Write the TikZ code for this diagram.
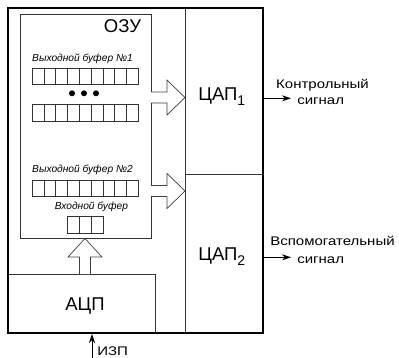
\documentclass[tikz,border=0pt]{standalone}
\usepackage{fontspec}
\setmainfont{Liberation Sans}
\newfontfamily\widesans{Liberation Sans}[FakeStretch=1.2]
\usetikzlibrary{positioning, arrows.meta, calc}

\begin{document}
\begin{tikzpicture}[x=1pt, y=-1pt, line width=0.7pt,
  block/.style={draw=black!80, line width=0.7pt, inner sep=0pt, outer sep=0pt},
  cell/.style={draw=black!80, line width=0.6pt},
  fatarrow/.style={draw=black!75, fill=white, line width=0.7pt, line join=miter},
  bigtext/.style={font=\fontsize{18.5}{20}\selectfont, inner sep=0pt},
  buftext/.style={font=\fontsize{10.2}{11}\selectfont\itshape, inner sep=0pt},
  sigtext/.style={font=\widesans\fontsize{12.5}{14}\selectfont, inner sep=0pt},
  sig/.style={-{Stealth[length=9pt, width=6pt]}, line width=0.8pt}]

\useasboundingbox (0,0) rectangle (399,358);

% ---------- blocks ----------
\node[block, minimum width=131pt, minimum height=224pt] (ram)  at (85.5,126)  {};
\node[block, minimum width=147pt, minimum height=59pt]  (adc)  at (81.5,303.5) {};
\node[block, minimum width=78pt,  minimum height=166pt] (dac1) at (224,91)    {};
\node[block, minimum width=78pt,  minimum height=159pt] (dac2) at (224,253.5) {};

% outer frame
\draw[line width=2pt] (8,8) rectangle (263,333);

% ---------- block labels ----------
\node[bigtext, anchor=base] (ramlbl) at (122.5,33) {ОЗУ};
\node[bigtext, anchor=base] (adclbl) at (85,310)   {АЦП};
\node[bigtext, anchor=base west] (dac1lbl) at (198,101)
  {ЦАП\raisebox{-5pt}{\fontsize{14}{14}\selectfont 1}};
\node[bigtext, anchor=base west] (dac2lbl) at (198,261)
  {ЦАП\raisebox{-5pt}{\fontsize{14}{14}\selectfont 2}};

% ---------- buffers in RAM ----------
\node[buftext, anchor=base] (buf1lbl) at (82.5,62)  {Выходной буфер №1};
\node[buftext, anchor=base] (buf2lbl) at (82.5,173) {Выходной буфер №2};
\node[buftext, anchor=base] (inlbl)   at (91.5,210) {Входной буфер};

\foreach \i in {0,...,8}{
  \draw[cell] ({32+\i*11.8},68)    rectangle ++(11.8,16);
  \draw[cell] ({32+\i*11.8},104.5) rectangle ++(11.8,17);
  \draw[cell] ({32+\i*11.8},180)   rectangle ++(11.8,16.5);
}
\foreach \i in {0,1,2}{\draw[cell] ({67+\i*12},216) rectangle ++(12,17);}

\foreach \x in {72,84,96}{\fill (\x,93.3) circle (3pt);}

% ---------- wide arrows ----------
\draw[fatarrow] (151,92) -- (167,92) -- (167,80) -- (185,97.5)
  -- (167,115) -- (167,103) -- (151,103);
\draw[fatarrow] (151,185.5) -- (167,185.5) -- (167,173.5) -- (185,191)
  -- (167,208.5) -- (167,196.5) -- (151,196.5);
\draw[fatarrow] (79.5,274) -- (79.5,257) -- (68,257) -- (85,238.5)
  -- (102,257) -- (90.5,257) -- (90.5,274);

% ---------- output signals ----------
\coordinate (out1) at (291,98.3);
\coordinate (out2) at (291,257.3);
\draw[sig] (dac1.east |- out1) -- (out1);
\draw[sig] (dac2.east |- out2) -- (out2);

\node[sigtext, anchor=base] (sig1a) at (322.5,88.5) {Контрольный};
\node[sigtext, anchor=base west] (sig1b) at (297,105) {сигнал};
\node[sigtext, anchor=base] (sig2a) at (332.5,246) {Вспомогательный};
\node[sigtext, anchor=base west] (sig2b) at (297,264) {сигнал};

% ---------- supply input ----------
\coordinate (izpin) at (92,358);
\draw[sig] (izpin) -- (92,334);
\node[sigtext, anchor=base west] (izp) at (97,355.5) {ИЗП};

\end{tikzpicture}
\end{document}
